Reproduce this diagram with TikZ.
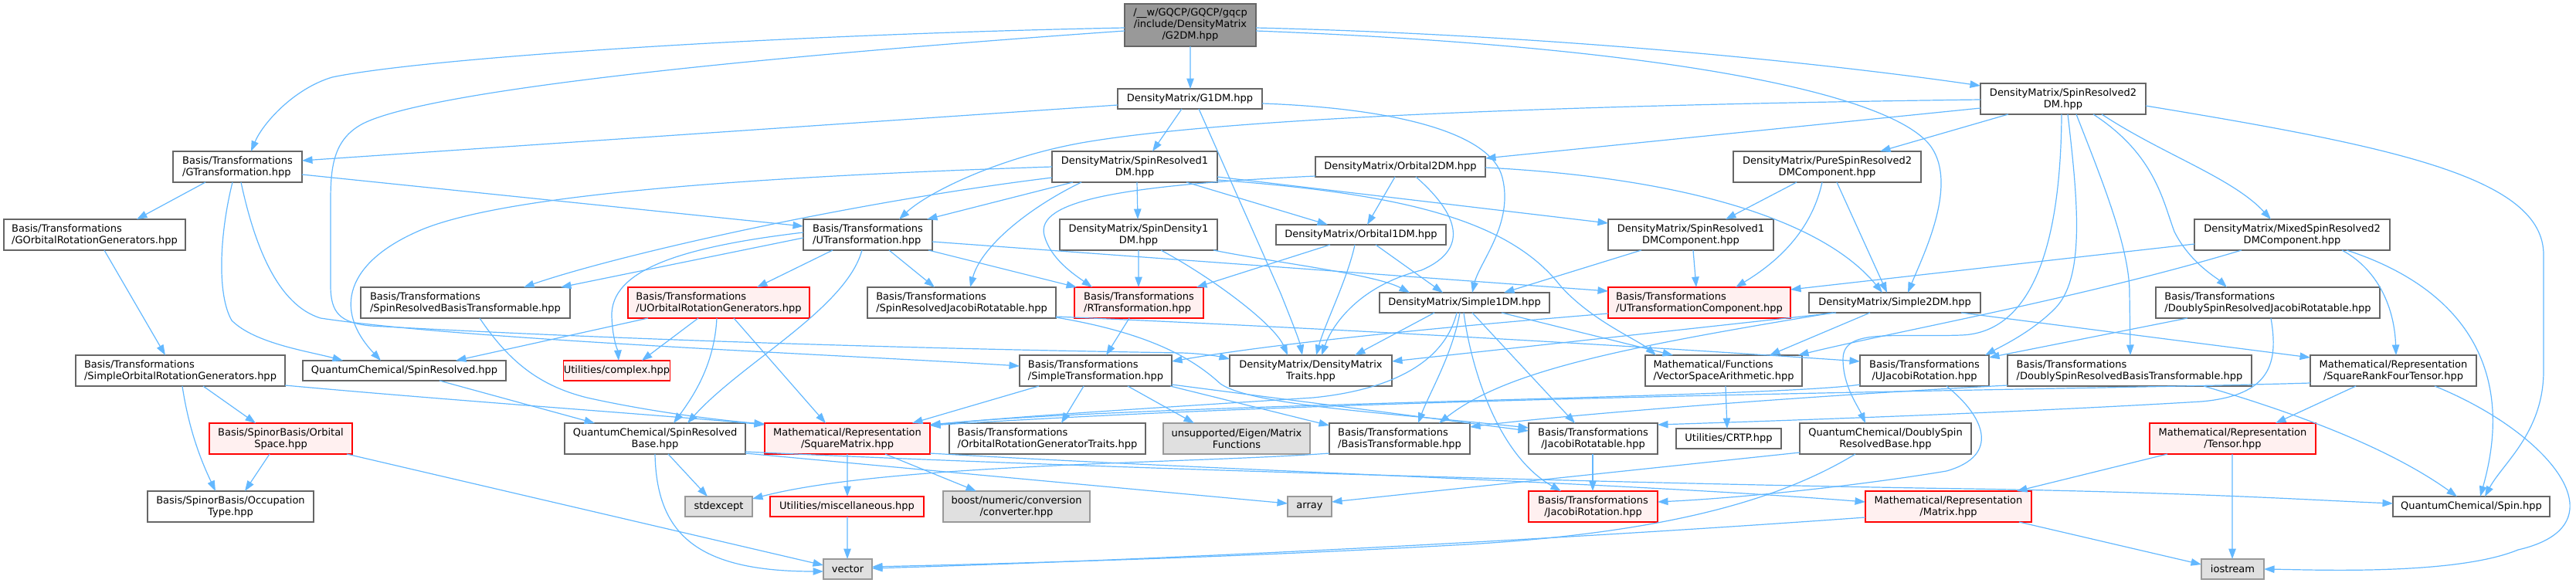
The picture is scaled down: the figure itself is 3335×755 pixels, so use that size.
\documentclass[tikz,border=0pt]{standalone}
\usepackage{fontspec}
\setmainfont{DejaVu Sans}
\usetikzlibrary{arrows.meta,calc}
\definecolor{edgec}{HTML}{63B8FF}
\definecolor{bordc}{HTML}{666666}
\definecolor{redc}{HTML}{FF0000}
\definecolor{redf}{HTML}{FFF0F0}
\definecolor{grayf}{HTML}{E0E0E0}
\definecolor{grayb}{HTML}{999999}
\definecolor{rootf}{HTML}{999999}
\tikzset{
  nb/.style={draw=bordc, fill=white, line width=1.1bp, inner sep=0pt, outer sep=0pt, align=center, font=\fontsize{13bp}{15bp}\selectfont},
  rb/.style={nb, draw=redc, fill=redf},
  gb/.style={nb, draw=grayb, fill=grayf},
  rootb/.style={nb, draw=bordc, fill=rootf},
  dep/.style={draw=edgec, line width=1.2bp, -{Triangle[length=13.5bp,width=9.5bp]}},
}
\begin{document}
\begin{tikzpicture}[x=1bp,y=-1bp]
\useasboundingbox (0,0) rectangle (3335,755);
% ---------------- nodes ----------------
\node[rootb, minimum width=170bp, minimum height=55bp] (g2dm) at (1541,32.5) {/\_\_w/GQCP/GQCP/gqcp\\/include/DensityMatrix\\/G2DM.hpp};
\node[nb, minimum width=187bp, minimum height=26bp] (g1dm) at (1540.5,128) {DensityMatrix/G1DM.hpp};
\node[nb, minimum width=214bp, minimum height=40bp] (sr2dm) at (2671,128) {DensityMatrix/SpinResolved2\\DM.hpp};
\node[nb, align=left, minimum width=167bp, minimum height=40bp] (gtrans) at (307.5,216) {Basis/Transformations\\/GTransformation.hpp};
\node[nb, minimum width=214bp, minimum height=40bp] (sr1dm) at (1469,216) {DensityMatrix/SpinResolved1\\DM.hpp};
\node[nb, minimum width=220bp, minimum height=26bp] (orb2dm) at (1813,216) {DensityMatrix/Orbital2DM.hpp};
\node[nb, minimum width=243bp, minimum height=40bp] (pure) at (2365.5,216) {DensityMatrix/PureSpinResolved2\\DMComponent.hpp};
\node[nb, align=left, minimum width=235bp, minimum height=40bp] (gorg) at (122.5,304) {Basis/Transformations\\/GOrbitalRotationGenerators.hpp};
\node[nb, align=left, minimum width=167bp, minimum height=40bp] (utrans) at (1123.5,304) {Basis/Transformations\\/UTransformation.hpp};
\node[nb, minimum width=204bp, minimum height=40bp] (sd1dm) at (1474,304) {DensityMatrix/SpinDensity1\\DM.hpp};
\node[nb, minimum width=220bp, minimum height=26bp] (orb1dm) at (1762,304) {DensityMatrix/Orbital1DM.hpp};
\node[nb, minimum width=214bp, minimum height=40bp] (sr1dmc) at (2189,304) {DensityMatrix/SpinResolved1\\DMComponent.hpp};
\node[nb, minimum width=253bp, minimum height=40bp] (mixed) at (2967.5,304) {DensityMatrix/MixedSpinResolved2\\DMComponent.hpp};
\node[nb, align=left, minimum width=271bp, minimum height=40bp] (srbt) at (602.5,392) {Basis/Transformations\\/SpinResolvedBasisTransformable.hpp};
\node[rb, align=left, minimum width=235bp, minimum height=40bp] (uorg) at (930.5,392) {Basis/Transformations\\/UOrbitalRotationGenerators.hpp};
\node[nb, align=left, minimum width=244bp, minimum height=40bp] (srjr) at (1245,392) {Basis/Transformations\\/SpinResolvedJacobiRotatable.hpp};
\node[rb, align=left, minimum width=167bp, minimum height=40bp] (rtrans) at (1474.5,392) {Basis/Transformations\\/RTransformation.hpp};
\node[nb, minimum width=220bp, minimum height=26bp] (s1dm) at (1896,392) {DensityMatrix/Simple1DM.hpp};
\node[rb, align=left, minimum width=236bp, minimum height=40bp] (utc) at (2200,392) {Basis/Transformations\\/UTransformationComponent.hpp};
\node[nb, minimum width=222bp, minimum height=26bp] (s2dm) at (2453,392) {DensityMatrix/Simple2DM.hpp};
\node[nb, align=left, minimum width=290bp, minimum height=40bp] (dsrjr) at (2936,392) {Basis/Transformations\\/DoublySpinResolvedJacobiRotatable.hpp};
\node[nb, align=left, minimum width=271bp, minimum height=40bp] (sorg) at (233.5,480) {Basis/Transformations\\/SimpleOrbitalRotationGenerators.hpp};
\node[nb, minimum width=263bp, minimum height=26bp] (qcsr) at (523.5,480) {QuantumChemical/SpinResolved.hpp};
\node[rb, minimum width=135bp, minimum height=26bp] (cplx) at (798.5,480) {Utilities/complex.hpp};
\node[nb, align=left, minimum width=197bp, minimum height=40bp] (strans) at (1418.5,480) {Basis/Transformations\\/SimpleTransformation.hpp};
\node[nb, minimum width=210bp, minimum height=40bp] (dmtraits) at (1697,480) {DensityMatrix/DensityMatrix\\Traits.hpp};
\node[nb, align=left, minimum width=203bp, minimum height=40bp] (vsa) at (2231.5,480) {Mathematical/Functions\\/VectorSpaceArithmetic.hpp};
\node[nb, minimum width=167bp, minimum height=40bp] (ujr) at (2491.5,480) {Basis/Transformations\\/UJacobiRotation.hpp};
\node[nb, align=left, minimum width=316bp, minimum height=40bp] (dsrbt) at (2757,480) {Basis/Transformations\\/DoublySpinResolvedBasisTransformable.hpp};
\node[nb, minimum width=215bp, minimum height=40bp] (srft) at (3098.5,480) {Mathematical/Representation\\/SquareRankFourTensor.hpp};
\node[rb, minimum width=185bp, minimum height=40bp] (ospace) at (363.5,568) {Basis/SpinorBasis/Orbital\\Space.hpp};
\node[nb, minimum width=234bp, minimum height=40bp] (qcsrb) at (848,568) {QuantumChemical/SpinResolved\\Base.hpp};
\node[rb, minimum width=214bp, minimum height=40bp] (sqm) at (1097,568) {Mathematical/Representation\\/SquareMatrix.hpp};
\node[nb, align=left, minimum width=254bp, minimum height=40bp] (orgt) at (1356,568) {Basis/Transformations\\/OrbitalRotationGeneratorTraits.hpp};
\node[gb, minimum width=190bp, minimum height=40bp] (eigen) at (1601,568) {unsupported/Eigen/Matrix\\Functions};
\node[nb, align=left, minimum width=182bp, minimum height=40bp] (bt) at (1812,568) {Basis/Transformations\\/BasisTransformable.hpp};
\node[nb, minimum width=167bp, minimum height=40bp] (jrt) at (2062.5,568) {Basis/Transformations\\/JacobiRotatable.hpp};
\node[nb, minimum width=136bp, minimum height=26bp] (crtp) at (2238,568) {Utilities/CRTP.hpp};
\node[nb, minimum width=222bp, minimum height=40bp] (qcdsrb) at (2441,568) {QuantumChemical/DoublySpin\\ResolvedBase.hpp};
\node[rb, minimum width=215bp, minimum height=40bp] (tensor) at (2890.5,568) {Mathematical/Representation\\/Tensor.hpp};
\node[nb, minimum width=215bp, minimum height=40bp] (occ) at (298.5,656) {Basis/SpinorBasis/Occupation\\Type.hpp};
\node[gb, minimum width=87bp, minimum height=26bp] (stdexcept) at (930.5,656) {stdexcept};
\node[rb, minimum width=199bp, minimum height=26bp] (misc) at (1096.5,656) {Utilities/miscellaneous.hpp};
\node[gb, minimum width=190bp, minimum height=40bp] (boost) at (1316,656) {boost/numeric/conversion\\/converter.hpp};
\node[gb, minimum width=57bp, minimum height=26bp] (array) at (1695.5,656) {array};
\node[rb, minimum width=167bp, minimum height=40bp] (jrot) at (2062.5,656) {Basis/Transformations\\/JacobiRotation.hpp};
\node[rb, minimum width=215bp, minimum height=40bp] (matrix) at (2522.5,656) {Mathematical/Representation\\/Matrix.hpp};
\node[nb, minimum width=203bp, minimum height=26bp] (spin) at (3199.5,656) {QuantumChemical/Spin.hpp};
\node[gb, minimum width=63bp, minimum height=26bp] (vector) at (1097.5,737) {vector};
\node[gb, minimum width=81bp, minimum height=26bp] (iostream) at (2890.5,737) {iostream};
% ---------------- edges ----------------
\draw[dep] ($(g2dm.north west)+(0,31)$) .. controls (1000,45) and (550,75) .. (430,100) .. controls (380,115) and (340,160) .. ($(gtrans.north west)+(101,0)$);
\draw[dep] ($(g2dm.north west)+(0,35)$) .. controls (1000,72) and (560,115) .. (470,160) .. controls (432,180) and (428,215) .. (428,260) -- (428,370) .. controls (428,405) and (440,418) .. (480,422) .. controls (800,440) and (1200,452) .. (1530,457) .. controls (1560,458) and (1580,462) .. ($(dmtraits.north west)+(0,5)$);
\draw[dep] ($(g2dm.south west)+(85,0)$) -- ($(g1dm.north west)+(94,0)$);
\draw[dep] ($(g2dm.north east)+(0,31)$) .. controls (2000,45) and (2350,80) .. ($(sr2dm.north west)+(0,3)$);
\draw[dep] ($(g2dm.north east)+(0,35)$) .. controls (2150,60) and (2450,120) .. (2500,190) .. controls (2535,240) and (2490,330) .. ($(s2dm.north west)+(128,0)$);
\draw[dep] ($(g1dm.north west)+(0,21)$) -- ($(gtrans.north east)+(0,12)$);
\draw[dep] ($(g1dm.south west)+(83,0)$) -- ($(sr1dm.north west)+(130,0)$);
\draw[dep] ($(g1dm.south west)+(105,0)$) -- (1658,380) .. controls (1670,410) and (1682,440) .. ($(dmtraits.north west)+(94,0)$);
\draw[dep] ($(g1dm.north east)+(0,19)$) .. controls (1800,140) and (1930,170) .. (1945,230) .. controls (1960,290) and (1915,340) .. ($(s1dm.north west)+(120,0)$);
\draw[dep] ($(sr2dm.north west)+(0,21)$) .. controls (2100,135) and (1600,150) .. (1400,185) .. controls (1290,205) and (1200,250) .. ($(utrans.north west)+(124,0)$);
\draw[dep] ($(sr2dm.north west)+(0,32)$) -- ($(orb2dm.north east)+(0,2)$);
\draw[dep] ($(sr2dm.south west)+(36,0)$) -- ($(pure.north west)+(190,0)$);
\draw[dep] ($(sr2dm.south west)+(105,0)$) .. controls (2668,320) and (2630,430) .. (2540,434) .. controls (2450,437) and (2386,425) .. (2386,465) .. controls (2386,500) and (2405,525) .. ($(qcdsrb.north west)+(85,0)$);
\draw[dep] ($(sr2dm.south west)+(113,0)$) .. controls (2690,260) and (2700,360) .. (2660,400) .. controls (2630,430) and (2592,448) .. ($(ujr.north east)+(-5,0)$);
\draw[dep] ($(sr2dm.south west)+(124,0)$) .. controls (2720,230) and (2757,320) .. (2757,380) -- ($(dsrbt.north west)+(159,0)$);
\draw[dep] ($(sr2dm.south west)+(146,0)$) .. controls (2790,200) and (2800,260) .. (2815,300) .. controls (2835,340) and (2870,360) .. ($(dsrjr.north west)+(92,0)$);
\draw[dep] ($(sr2dm.south west)+(157,0)$) .. controls (2800,200) and (2890,230) .. ($(mixed.north west)+(99,0)$);
\draw[dep] ($(sr2dm.north east)+(0,29)$) .. controls (3100,190) and (3293,230) .. (3293,330) -- (3293,480) .. controls (3293,560) and (3240,600) .. ($(spin.north west)+(119,0)$);
\draw[dep] ($(gtrans.south west)+(42,0)$) -- ($(gorg.north west)+(172,0)$);
\draw[dep] ($(gtrans.north east)+(0,30)$) -- ($(utrans.north west)+(0,9)$);
\draw[dep] ($(gtrans.south west)+(77,0)$) .. controls (285,300) and (280,380) .. (300,415) .. controls (330,445) and (400,455) .. ($(qcsr.north west)+(52,0)$);
\draw[dep] ($(gtrans.south west)+(88,0)$) .. controls (330,320) and (360,395) .. (415,412) .. controls (600,440) and (1100,460) .. ($(strans.north west)+(0,14)$);
\draw[dep] ($(sr1dm.north west)+(0,20)$) .. controls (1000,228) and (650,250) .. (540,300) .. controls (450,340) and (430,400) .. ($(qcsr.north west)+(101,0)$);
\draw[dep] ($(sr1dm.north west)+(0,34)$) .. controls (1100,262) and (800,330) .. ($(srbt.north west)+(211,0)$);
\draw[dep] ($(utrans.north west)+(0,24)$) -- ($(srbt.north west)+(259,0)$);
\draw[dep] ($(utrans.north west)+(0,17)$) .. controls (880,320) and (790,350) .. (792,410) .. controls (793,440) and (800,455) .. ($(cplx.north west)+(71,0)$);
\draw[dep] ($(sr1dm.south west)+(27,0)$) -- ($(utrans.north west)+(160,0)$);
\draw[dep] ($(sr1dm.south west)+(38,0)$) .. controls (1330,270) and (1270,320) .. ($(srjr.north west)+(133,0)$);
\draw[dep] ($(sr1dm.south west)+(110,0)$) -- ($(sd1dm.north west)+(101,0)$);
\draw[dep] ($(sr1dm.south west)+(174,0)$) -- ($(orb1dm.north west)+(67,0)$);
\draw[dep] ($(sr1dm.north east)+(0,33)$) -- ($(sr1dmc.north west)+(0,5)$);
\draw[dep] ($(sr1dm.north east)+(0,37)$) .. controls (1800,250) and (1950,280) .. (2020,370) .. controls (2060,415) and (2120,440) .. ($(vsa.north west)+(14,0)$);
\draw[dep] ($(utrans.south west)+(38,0)$) -- ($(uorg.north west)+(167,0)$);
\draw[dep] ($(utrans.south west)+(76,0)$) .. controls (1095,400) and (960,470) .. ($(qcsrb.north west)+(159,0)$);
\draw[dep] ($(utrans.south west)+(111,0)$) -- ($(srjr.north west)+(87,0)$);
\draw[dep] ($(utrans.south west)+(162,0)$) -- ($(rtrans.north west)+(3,0)$);
\draw[dep] ($(utrans.north east)+(0,29)$) -- ($(utc.north west)+(0,5)$);
\draw[dep] ($(sd1dm.south west)+(102,0)$) -- ($(rtrans.north west)+(83,0)$);
\draw[dep] ($(sd1dm.south west)+(131,0)$) .. controls (1570,360) and (1650,420) .. ($(dmtraits.north west)+(75,0)$);
\draw[dep] ($(sd1dm.south west)+(199,0)$) .. controls (1650,340) and (1780,355) .. ($(s1dm.north west)+(39,0)$);
\draw[dep] ($(orb2dm.south west)+(103,0)$) -- ($(orb1dm.north west)+(118,0)$);
\draw[dep] ($(orb2dm.south west)+(130,0)$) .. controls (1880,270) and (1910,320) .. (1840,350) .. controls (1760,370) and (1725,420) .. ($(dmtraits.north west)+(119,0)$);
\draw[dep] ($(orb2dm.north west)+(0,25)$) .. controls (1450,240) and (1340,260) .. (1352,305) .. controls (1360,335) and (1390,355) .. ($(rtrans.north west)+(23,0)$);
\draw[dep] ($(orb2dm.north east)+(0,14)$) .. controls (2180,230) and (2360,285) .. ($(s2dm.north west)+(95,0)$);
\draw[dep] ($(pure.south west)+(82,0)$) -- ($(sr1dmc.north west)+(152,0)$);
\draw[dep] ($(pure.south west)+(115,0)$) .. controls (2345,300) and (2300,340) .. ($(utc.north west)+(165,0)$);
\draw[dep] ($(pure.south west)+(134,0)$) -- ($(s2dm.north west)+(101,0)$);
\draw[dep] ($(gorg.south west)+(130,0)$) -- ($(sorg.north west)+(116,0)$);
\draw[dep] ($(sorg.south west)+(138,0)$) .. controls (245,560) and (262,600) .. ($(occ.north west)+(88,0)$);
\draw[dep] ($(sorg.south west)+(165,0)$) -- ($(ospace.north west)+(60,0)$);
\draw[dep] ($(sorg.north east)+(0,39)$) .. controls (600,520) and (850,537) .. ($(sqm.north west)+(0,2)$);
\draw[dep] ($(ospace.south west)+(78,0)$) -- ($(occ.north west)+(126,0)$);
\draw[dep] ($(ospace.south west)+(178,0)$) -- ($(vector.north west)+(0,8)$);
\draw[dep] ($(qcsr.south west)+(177,0)$) -- ($(qcsrb.north west)+(39,0)$);
\draw[dep] ($(srbt.south west)+(154,0)$) .. controls (660,470) and (700,500) .. (760,515) .. controls (850,535) and (940,545) .. ($(sqm.north west)+(0,1)$);
\draw[dep] ($(uorg.south west)+(26,0)$) -- ($(qcsr.north west)+(198,0)$);
\draw[dep] ($(uorg.south west)+(91,0)$) -- ($(cplx.north west)+(101,0)$);
\draw[dep] ($(uorg.south west)+(115,0)$) .. controls (925,470) and (900,510) .. ($(qcsrb.north west)+(141,0)$);
\draw[dep] ($(uorg.south west)+(137,0)$) -- ($(sqm.north west)+(79,0)$);
\draw[dep] ($(srjr.north east)+(0,38)$) .. controls (1600,420) and (2000,440) .. ($(ujr.north west)+(0,8)$);
\draw[dep] ($(srjr.north east)+(0,39)$) .. controls (1480,430) and (1540,460) .. (1580,497) .. controls (1620,525) and (1800,535) .. ($(jrt.north west)+(0,6)$);
\draw[dep] ($(rtrans.south west)+(71,0)$) -- ($(strans.north west)+(112,0)$);
\draw[dep] ($(s1dm.south west)+(71,0)$) -- ($(dmtraits.north west)+(162,0)$);
\draw[dep] ($(s1dm.south west)+(100,0)$) .. controls (1870,470) and (1800,505) .. (1700,515) .. controls (1500,528) and (1300,540) .. ($(sqm.north east)+(0,3)$);
\draw[dep] ($(s1dm.south west)+(104,0)$) .. controls (1880,460) and (1850,510) .. ($(bt.north west)+(115,0)$);
\draw[dep] ($(s1dm.south west)+(109,0)$) .. controls (1905,480) and (1940,590) .. ($(jrot.north west)+(42,0)$);
\draw[dep] ($(s1dm.south west)+(120,0)$) -- ($(jrt.north west)+(60,0)$);
\draw[dep] ($(s1dm.south west)+(158,0)$) -- ($(vsa.north west)+(36,0)$);
\draw[dep] ($(utc.north west)+(0,34)$) .. controls (1850,425) and (1650,445) .. ($(strans.north east)+(0,8)$);
\draw[dep] ($(s2dm.south west)+(35,0)$) -- ($(dmtraits.north east)+(0,8)$);
\draw[dep] ($(s2dm.south west)+(31,0)$) .. controls (2100,450) and (1950,480) .. ($(bt.north west)+(142,0)$);
\draw[dep] ($(s2dm.south west)+(79,0)$) -- ($(vsa.north west)+(161,0)$);
\draw[dep] ($(s2dm.south west)+(197,0)$) -- ($(srft.north west)+(0,3)$);
\draw[dep] ($(dsrjr.south west)+(41,0)$) -- ($(ujr.north east)+(0,3)$);
\draw[dep] ($(dsrjr.south west)+(149,0)$) .. controls (2950,470) and (2940,512) .. (2850,520) .. controls (2600,535) and (2300,545) .. ($(jrt.north east)+(0,2)$);
\draw[dep] ($(mixed.north west)+(0,32)$) -- ($(utc.north east)+(0,3)$);
\draw[dep] ($(mixed.south west)+(61,0)$) .. controls (2700,385) and (2450,430) .. ($(vsa.north east)+(-5,0)$);
\draw[dep] ($(mixed.south west)+(191,0)$) .. controls (3080,350) and (3100,400) .. ($(srft.north west)+(111,0)$);
\draw[dep] ($(mixed.south west)+(197,0)$) .. controls (3180,370) and (3260,470) .. ($(spin.north west)+(113,0)$);
\draw[dep] ($(vsa.south west)+(104,0)$) -- ($(crtp.north west)+(66,0)$);
\draw[dep] ($(jrt.south west)+(83,0)$) -- ($(jrot.north west)+(83,0)$);
\draw[dep] ($(ujr.south west)+(112,0)$) .. controls (2570,540) and (2590,590) .. (2520,610) .. controls (2400,630) and (2250,645) .. ($(jrot.north east)+(0,14)$);
\draw[dep] ($(ujr.north west)+(0,38)$) .. controls (2300,515) and (1500,522) .. ($(sqm.north east)+(0,2)$);
\draw[dep] ($(srft.north west)+(0,36)$) .. controls (2700,505) and (1800,512) .. ($(sqm.north east)+(0,3)$);
\draw[dep] ($(srft.south west)+(59,0)$) -- ($(tensor.north west)+(163,0)$);
\draw[dep] ($(srft.south west)+(161,0)$) .. controls (3300,560) and (3400,680) .. (3260,712) .. controls (3180,745) and (3000,738) .. ($(iostream.north east)+(0,13)$);
\draw[dep] ($(tensor.south west)+(23,0)$) -- ($(matrix.north west)+(196,0)$);
\draw[dep] ($(tensor.south west)+(107,0)$) -- ($(iostream.north west)+(40,0)$);
\draw[dep] ($(matrix.south west)+(199,0)$) -- ($(iostream.north west)+(0,7)$);
\draw[dep] ($(matrix.north west)+(0,34)$) .. controls (2000,700) and (1500,725) .. ($(vector.north east)+(0,12)$);
\draw[dep] ($(dsrbt.north west)+(0,39)$) .. controls (2300,515) and (2000,540) .. ($(bt.north east)+(0,5)$);
\draw[dep] ($(dsrbt.south west)+(254,0)$) .. controls (2990,540) and (3100,585) .. ($(spin.north west)+(83,0)$);
\draw[dep] ($(qcsrb.south west)+(134,0)$) -- ($(stdexcept.north west)+(29,0)$);
\draw[dep] ($(qcsrb.south west)+(117,0)$) .. controls (850,690) and (900,740) .. ($(vector.north west)+(0,16)$);
\draw[dep] ($(qcsrb.north east)+(0,39)$) -- ($(array.north west)+(0,9)$);
\draw[dep] ($(qcsrb.north east)+(0,37)$) .. controls (1500,610) and (2200,628) .. (2550,633) .. controls (2850,638) and (3000,648) .. ($(spin.north west)+(0,9)$);
\draw[dep] ($(sqm.south west)+(107,0)$) -- ($(misc.north west)+(100,0)$);
\draw[dep] ($(sqm.south west)+(156,0)$) -- ($(boost.north west)+(43,0)$);
\draw[dep] ($(sqm.north east)+(0,39)$) .. controls (1600,610) and (2100,625) .. ($(matrix.north west)+(0,14)$);
\draw[dep] ($(bt.north west)+(0,39)$) .. controls (1550,600) and (1150,600) .. ($(stdexcept.north east)+(0,3)$);
\draw[dep] ($(qcdsrb.north west)+(0,38)$) -- ($(array.north east)+(0,7)$);
\draw[dep] ($(qcdsrb.south west)+(72,0)$) .. controls (2300,650) and (2150,690) .. (1900,705) .. controls (1600,722) and (1300,730) .. ($(vector.north east)+(0,10)$);
\draw[dep] ($(misc.south west)+(100,0)$) -- ($(vector.north west)+(31,0)$);
\draw[dep] ($(strans.south west)+(25,0)$) -- ($(sqm.north west)+(191,0)$);
\draw[dep] ($(strans.south west)+(83,0)$) -- ($(orgt.north west)+(145,0)$);
\draw[dep] ($(strans.south west)+(140,0)$) -- ($(eigen.north west)+(40,0)$);
\draw[dep] ($(strans.south east)+(-2,0)$) -- ($(bt.north west)+(0,3)$);
\draw[dep] ($(strans.south east)+(0,-2)$) -- ($(jrt.north west)+(0,10)$);
\draw[dep] ($(sr1dmc.south west)+(43,0)$) -- ($(s1dm.north west)+(161,0)$);
\draw[dep] ($(sr1dmc.south west)+(110,0)$) -- ($(utc.north west)+(114,0)$);
\draw[dep] ($(orb1dm.south west)+(70,0)$) -- ($(rtrans.north west)+(158,0)$);
\draw[dep] ($(orb1dm.south west)+(102,0)$) .. controls (1745,360) and (1715,420) .. ($(dmtraits.north west)+(112,0)$);
\draw[dep] ($(orb1dm.south west)+(129,0)$) -- ($(s1dm.north west)+(82,0)$);
\end{tikzpicture}
\end{document}
